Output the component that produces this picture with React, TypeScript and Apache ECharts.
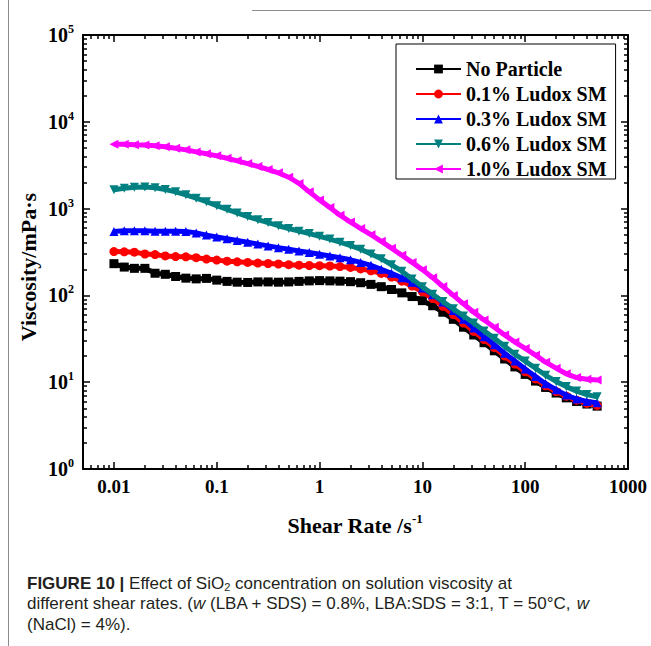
import React, { useEffect, useRef } from 'react';
import * as echarts from 'echarts';

// Shear rate (1/s), 10 points per decade
const shearRate = [
  0.01, 0.0126, 0.0158, 0.02, 0.0251, 0.0316, 0.0398, 0.0501, 0.0631, 0.0794,
  0.1, 0.126, 0.158, 0.2, 0.251, 0.316, 0.398, 0.501, 0.631, 0.794,
  1, 1.26, 1.58, 2, 2.51, 3.16, 3.98, 5.01, 6.31, 7.94,
  10, 12.6, 15.8, 20, 25.1, 31.6, 39.8, 50.1, 63.1, 79.4,
  100, 126, 158, 200, 251, 316, 398, 501,
];

// Viscosity (mPa·s)
const noParticle = [
  232, 212, 205, 205, 180, 175, 165, 158, 155, 157,
  150, 145, 142, 141, 143, 143, 142, 143, 145, 147,
  148, 147, 146, 144, 140, 134, 126, 117, 107, 97,
  87, 76, 64, 53, 43, 35, 28.5, 23, 18.5, 15,
  12.3, 10.3, 8.7, 7.5, 6.6, 6.0, 5.6, 5.3,
];
const ludox01 = [
  320, 318, 315, 300, 295, 285, 280, 278, 272, 262,
  255, 248, 244, 240, 236, 233, 230, 226, 223, 221,
  220, 218, 215, 210, 202, 192, 179, 163, 146, 128,
  110, 92, 75, 60, 48, 38.5, 31, 25, 20, 16.2,
  13.2, 10.9, 9.1, 7.8, 6.9, 6.2, 5.7, 5.4,
];
const ludox03 = [
  545, 555, 555, 555, 550, 548, 550, 545, 525, 495,
  470, 450, 430, 410, 390, 372, 355, 340, 325, 312,
  298, 285, 272, 257, 240, 222, 200, 180, 160, 142,
  122, 102, 84, 67, 53, 42, 33.5, 27, 21.5, 17.5,
  14.2, 11.6, 9.6, 8.2, 7.1, 6.4, 6.0, 5.8,
];
const ludox06 = [
  1650, 1720, 1760, 1770, 1740, 1660, 1560, 1440, 1320, 1200,
  1080, 980, 890, 810, 745, 690, 635, 590, 550, 515,
  480, 445, 410, 375, 340, 300, 265, 225, 190, 155,
  126, 103, 85, 70, 58, 48, 39, 32, 26, 21,
  17.5, 14.5, 12, 10.2, 8.9, 7.9, 7.2, 6.8,
];
const ludox10 = [
  5500, 5500, 5450, 5400, 5300, 5150, 4950, 4750, 4500, 4280,
  4050, 3800, 3550, 3300, 3060, 2820, 2580, 2300, 1950, 1560,
  1260, 1030, 840, 700, 590, 500, 420, 350, 290, 240,
  198, 160, 127, 100, 80, 64, 52, 43, 35, 29,
  24.5, 20.5, 17, 14.5, 12.5, 11.3, 10.8, 10.6,
];

const seriesNames = ['No Particle', '0.1% Ludox SM', '0.3% Ludox SM', '0.6% Ludox SM', '1.0% Ludox SM'];
const seriesData = [noParticle, ludox01, ludox03, ludox06, ludox10];
const seriesColors = ['#000000', '#ff0000', '#0000ff', '#008080', '#ff00ff'];
const seriesSymbols = [
  'rect',
  'circle',
  'triangle',
  'path://M0,0L10,0L5,10Z',
  'path://M0,5L10,0L10,10Z',
];

const xTickValues = [0.01, 0.1, 1, 10, 100, 1000];
const xTickLabels = ['0.01', '0.1', '1', '10', '100', '1000'];
const yTickValues = [1, 10, 100, 1000, 10000, 100000];
const yTickExponents = ['0', '1', '2', '3', '4', '5'];

const X_MIN = 0.005;
const X_MAX = 1000;
const Y_MIN = 1;
const Y_MAX = 100000;

const SERIF = '"Liberation Serif", "Times New Roman", serif';
const SANS = '"Liberation Sans", Arial, sans-serif';
const CAPTION_SIZE = 17;
const CAPTION_COLOR = '#231f20';

function minorTicks(min: number, max: number): number[] {
  const out: number[] = [];
  for (let e = Math.floor(Math.log10(min)); e < Math.ceil(Math.log10(max)); e++) {
    for (let m = 2; m <= 9; m++) {
      const v = m * Math.pow(10, e);
      if (v >= min * 0.999 && v <= max * 1.001) out.push(Math.log10(v));
    }
  }
  return out;
}

function findIdx(vals: number[], v: number): number {
  for (let i = 0; i < vals.length; i++) {
    if (Math.abs(Math.log10(vals[i]) - v) < 1e-6) return i;
  }
  return -1;
}

const AXIS_COLOR = '#000';

function tickAxis(opts: {
  position: string;
  min: number;
  max: number;
  ticks: number[];
  length: number;
  line: boolean;
  label?: any;
}) {
  return {
    type: 'value',
    gridIndex: 0,
    position: opts.position,
    min: opts.min,
    max: opts.max,
    silent: true,
    axisLine: { show: opts.line, onZero: false, lineStyle: { color: AXIS_COLOR, width: 2 } },
    axisTick: {
      show: true,
      inside: true,
      length: opts.length,
      customValues: opts.ticks,
      lineStyle: { color: AXIS_COLOR, width: 1.5 },
    },
    axisLabel: opts.label ? opts.label : { show: false },
    splitLine: { show: false },
    minorTick: { show: false },
    minorSplitLine: { show: false },
  };
}

export default function App() {
  const ref = useRef<HTMLDivElement>(null);

  useEffect(() => {
    if (!ref.current) return;
    const chart = echarts.init(ref.current, null, { renderer: 'svg' });

    const lxMin = Math.log10(X_MIN);
    const lxMax = Math.log10(X_MAX);
    const lyMin = Math.log10(Y_MIN);
    const lyMax = Math.log10(Y_MAX);
    const xMajor = xTickValues.map((v) => Math.log10(v));
    const yMajor = yTickValues.map((v) => Math.log10(v));
    const xMinor = minorTicks(X_MIN, X_MAX);
    const yMinor = minorTicks(Y_MIN, Y_MAX);

    const xLabel = {
      show: true,
      customValues: xMajor,
      margin: 8,
      color: '#000',
      fontFamily: SERIF,
      fontWeight: 'bold',
      fontSize: 19,
      formatter: (v: number) => {
        const i = findIdx(xTickValues, v);
        return i >= 0 ? xTickLabels[i] : '';
      },
    };
    const yLabel = {
      show: true,
      customValues: yMajor,
      margin: 9,
      formatter: (v: number) => {
        const i = findIdx(yTickValues, v);
        return i >= 0 ? `{b|10}{s|${yTickExponents[i]}}` : '';
      },
      rich: {
        b: { fontFamily: SERIF, fontWeight: 'bold', fontSize: 20, lineHeight: 24, color: '#000' },
        s: {
          fontFamily: SERIF,
          fontWeight: 'bold',
          fontSize: 12,
          lineHeight: 12,
          verticalAlign: 'top',
          color: '#000',
        },
      },
    };

    const captionText = (x: number, y: number, text: string) => ({
      type: 'text',
      x,
      y,
      style: {
        text,
        font: `${CAPTION_SIZE}px ${SANS}`,
        fill: CAPTION_COLOR,
        verticalAlign: 'middle',
        textVerticalAlign: 'middle',
        rich: {
          b: {
            fontFamily: SANS,
            fontWeight: 'bold',
            fontSize: CAPTION_SIZE,
            lineHeight: 19,
            fill: CAPTION_COLOR,
            color: CAPTION_COLOR,
          },
          i: {
            fontFamily: SANS,
            fontStyle: 'italic',
            fontSize: CAPTION_SIZE,
            lineHeight: 19,
            fill: CAPTION_COLOR,
            color: CAPTION_COLOR,
          },
          sub: {
            fontFamily: SANS,
            fontSize: 11,
            lineHeight: 11,
            verticalAlign: 'bottom',
            fill: CAPTION_COLOR,
            color: CAPTION_COLOR,
          },
        },
      },
    });

    const option: any = {
      animation: false,
      backgroundColor: '#fff',
      grid: { left: 83, top: 35, width: 545, height: 434, containLabel: false },
      xAxis: [
        { type: 'log', logBase: 10, min: X_MIN, max: X_MAX, gridIndex: 0, show: false },
        tickAxis({ position: 'bottom', min: lxMin, max: lxMax, ticks: xMajor, length: 7, line: true, label: xLabel }),
        tickAxis({ position: 'bottom', min: lxMin, max: lxMax, ticks: xMinor, length: 4, line: false }),
        tickAxis({ position: 'top', min: lxMin, max: lxMax, ticks: xMajor, length: 7, line: true }),
        tickAxis({ position: 'top', min: lxMin, max: lxMax, ticks: xMinor, length: 4, line: false }),
      ],
      yAxis: [
        { type: 'log', logBase: 10, min: Y_MIN, max: Y_MAX, gridIndex: 0, show: false },
        tickAxis({ position: 'left', min: lyMin, max: lyMax, ticks: yMajor, length: 7, line: true, label: yLabel }),
        tickAxis({ position: 'left', min: lyMin, max: lyMax, ticks: yMinor, length: 4, line: false }),
        tickAxis({ position: 'right', min: lyMin, max: lyMax, ticks: yMajor, length: 7, line: true }),
        tickAxis({ position: 'right', min: lyMin, max: lyMax, ticks: yMinor, length: 4, line: false }),
      ],
      legend: {
        orient: 'vertical',
        left: 396,
        top: 44,
        padding: [15, 9, 0, 19],
        itemGap: 5,
        itemWidth: 45,
        itemHeight: 11,
        borderColor: '#000',
        borderWidth: 1,
        backgroundColor: '#fff',
        selectedMode: false,
        data: seriesNames,
        lineStyle: { width: 2 },
        textStyle: {
          fontFamily: SERIF,
          fontWeight: 'bold',
          fontSize: 20,
          lineHeight: 20,
          color: '#000',
        },
      },
      series: seriesNames.map((name, k) => ({
        name,
        type: 'line',
        xAxisIndex: 0,
        yAxisIndex: 0,
        data: shearRate.map((x, i) => [x, seriesData[k][i]]),
        symbol: seriesSymbols[k],
        symbolSize: 9,
        showSymbol: true,
        color: seriesColors[k],
        itemStyle: { color: seriesColors[k] },
        lineStyle: { color: seriesColors[k], width: 5 },
        emphasis: { disabled: true },
        z: 2 + k,
      })),
      graphic: [
        {
          type: 'line',
          shape: { x1: 8.5, y1: 0, x2: 8.5, y2: 646 },
          style: { stroke: '#8c8c8c', lineWidth: 1 },
        },
        {
          type: 'line',
          shape: { x1: 252, y1: 10.5, x2: 651, y2: 10.5 },
          style: { stroke: '#8c8c8c', lineWidth: 1 },
        },
        {
          type: 'text',
          x: 28,
          y: 267,
          rotation: Math.PI / 2,
          style: {
            text: 'Viscosity/mPa·s',
            font: `bold 22px ${SERIF}`,
            fill: '#000',
            align: 'center',
            verticalAlign: 'middle',
            textAlign: 'center',
            textVerticalAlign: 'middle',
          },
        },
        {
          type: 'text',
          x: 355,
          y: 525,
          style: {
            text: '{b|Shear Rate /s}{s|-1}',
            align: 'center',
            verticalAlign: 'middle',
            textAlign: 'center',
            textVerticalAlign: 'middle',
            rich: {
              b: { fontFamily: SERIF, fontWeight: 'bold', fontSize: 22, lineHeight: 26, fill: '#000', color: '#000' },
              s: {
                fontFamily: SERIF,
                fontWeight: 'bold',
                fontSize: 13,
                lineHeight: 13,
                verticalAlign: 'top',
                fill: '#000',
                color: '#000',
              },
            },
          },
        },
        captionText(27, 583, '{b|FIGURE 10 |} Effect of SiO{sub|2} concentration on solution viscosity at'),
        captionText(27, 603.5, 'different shear rates. ({i|w} (LBA + SDS) = 0.8%, LBA:SDS = 3:1, T = 50°C, {i|w}'),
        captionText(27, 624, '(NaCl) = 4%).'),
      ],
    };

    chart.setOption(option);
    return () => chart.dispose();
  }, []);

  return (
    <div
      ref={ref}
      style={{ position: 'absolute', left: 0, top: 0, width: 651, height: 646, background: '#fff' }}
    />
  );
}
